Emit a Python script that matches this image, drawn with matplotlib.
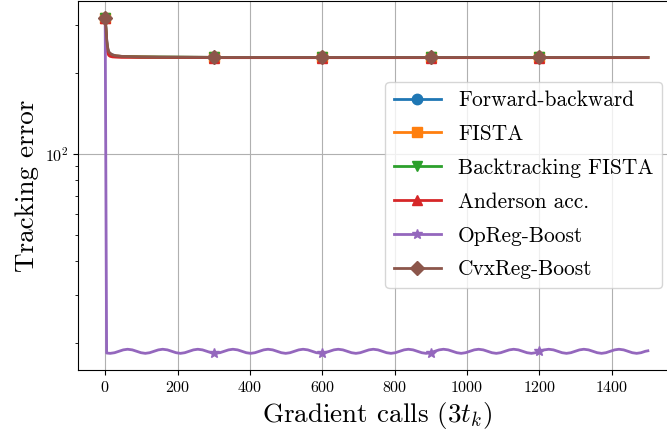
import numpy as np
import matplotlib
matplotlib.use('Agg')
import matplotlib.pyplot as plt

plt.rcParams['font.family'] = 'cmr10'
plt.rcParams['mathtext.fontset'] = 'cm'
plt.rcParams['axes.formatter.use_mathtext'] = True

# convergence of the "slow" methods (all nearly identical)
x_top = [0, 2, 4, 6, 8, 10, 14, 20, 30, 45, 70, 100, 150, 300, 600, 900, 1200, 1500]
fb_err = [320, 292, 265, 250, 242, 238, 235, 233, 231, 230, 229.5, 229, 228.5, 228, 228, 228, 228, 228]
fista_err = [320, 290, 262, 248, 241, 237, 234, 232, 231, 230, 229.5, 229, 228.5, 228, 228, 228, 228, 228]
bt_fista_err = [320, 288, 260, 246, 240, 236, 233, 231, 230, 229.5, 229, 228.5, 228.5, 228, 228, 228, 228, 228]
anderson_err = [320, 280, 252, 240, 235, 232, 230, 229, 228.5, 228, 228, 228, 228, 227.5, 227.5, 227.5, 227.5, 227.5]
cvxreg_err = [320, 294, 268, 252, 244, 239, 236, 233, 231, 230, 229.5, 229, 228.5, 228, 228, 228, 228, 228]

# OpReg-Boost drops immediately, then oscillates
x_op = [0, 4,
        14, 26, 38, 50, 62, 75, 87, 99,
        111, 123, 135, 147, 159, 172, 184, 196,
        208, 220, 232, 244, 256, 269, 281, 293,
        300, 317, 329, 341, 353, 366, 378, 390,
        402, 414, 426, 438, 450, 463, 475, 487,
        499, 511, 523, 535, 547, 560, 572, 584,
        600, 608, 620, 632, 644, 657, 669, 681,
        693, 705, 717, 729, 741, 754, 766, 778,
        790, 802, 814, 826, 838, 851, 863, 875,
        887, 900, 911, 923, 935, 948, 960, 972,
        984, 996, 1008, 1020, 1032, 1045, 1057, 1069,
        1081, 1093, 1105, 1117, 1129, 1142, 1154, 1166,
        1178, 1190, 1200, 1214, 1226, 1239, 1251, 1263,
        1275, 1287, 1299, 1311, 1323, 1336, 1348, 1360,
        1372, 1384, 1396, 1408, 1420, 1433, 1445, 1457,
        1469, 1481, 1493, 1500]
opreg_err = [320, 18.3,
             18.25, 18.35, 18.575, 18.8, 18.9, 18.8, 18.575, 18.35,
             18.25, 18.35, 18.575, 18.8, 18.9, 18.8, 18.575, 18.35,
             18.25, 18.35, 18.575, 18.8, 18.9, 18.8, 18.575, 18.35,
             18.27, 18.35, 18.575, 18.8, 18.9, 18.8, 18.575, 18.35,
             18.25, 18.35, 18.575, 18.8, 18.9, 18.8, 18.575, 18.35,
             18.25, 18.35, 18.575, 18.8, 18.9, 18.8, 18.575, 18.35,
             18.27, 18.35, 18.575, 18.8, 18.9, 18.8, 18.575, 18.35,
             18.25, 18.35, 18.575, 18.8, 18.9, 18.8, 18.575, 18.35,
             18.25, 18.35, 18.575, 18.8, 18.9, 18.8, 18.575, 18.35,
             18.25, 18.35, 18.575, 18.8, 18.9, 18.8, 18.575, 18.35,
             18.25, 18.35, 18.575, 18.8, 18.9, 18.8, 18.575, 18.35,
             18.25, 18.35, 18.575, 18.8, 18.9, 18.8, 18.575, 18.35,
             18.25, 18.35, 18.575, 18.8, 18.9, 18.8, 18.575, 18.35,
             18.25, 18.35, 18.575, 18.8, 18.9, 18.8, 18.575, 18.35,
             18.25, 18.35, 18.575, 18.8, 18.9, 18.8, 18.575, 18.35,
             18.25, 18.35, 18.575, 18.65]

labels = ['Forward-backward', 'FISTA', 'Backtracking FISTA', 'Anderson acc.',
          'OpReg-Boost', 'CvxReg-Boost']
markers = ['o', 's', 'v', '^', '*', 'D']


def marks(x):
    return [i for i, v in enumerate(x) if v % 300 == 0 and v < 1500]


fig = plt.figure(figsize=(6.67, 4.37), dpi=100)
ax = fig.add_axes([0.117, 0.153, 0.895, 0.845])

series = [(x_top, fb_err), (x_top, fista_err), (x_top, bt_fista_err),
          (x_top, anderson_err), (x_op, opreg_err), (x_top, cvxreg_err)]
for (x, y), lab, m in zip(series, labels, markers):
    ax.plot(x, y, marker=m, markevery=marks(x), markersize=7.5, linewidth=2, label=lab)

ax.set_yscale('log')
ax.grid(True)
ax.tick_params(labelsize=11.5)
ax.set_xlabel(r'Gradient calls $(3t_k)$', fontsize=19.5)
ax.set_ylabel('Tracking error', fontsize=19.5)
ax.legend(fontsize=15.4, labelspacing=0.67, handlelength=2.2,
          loc='upper right', bbox_to_anchor=(0.9925, 0.8124),
          bbox_transform=fig.transFigure, borderaxespad=0)

fig.savefig('out.png', dpi=100)
